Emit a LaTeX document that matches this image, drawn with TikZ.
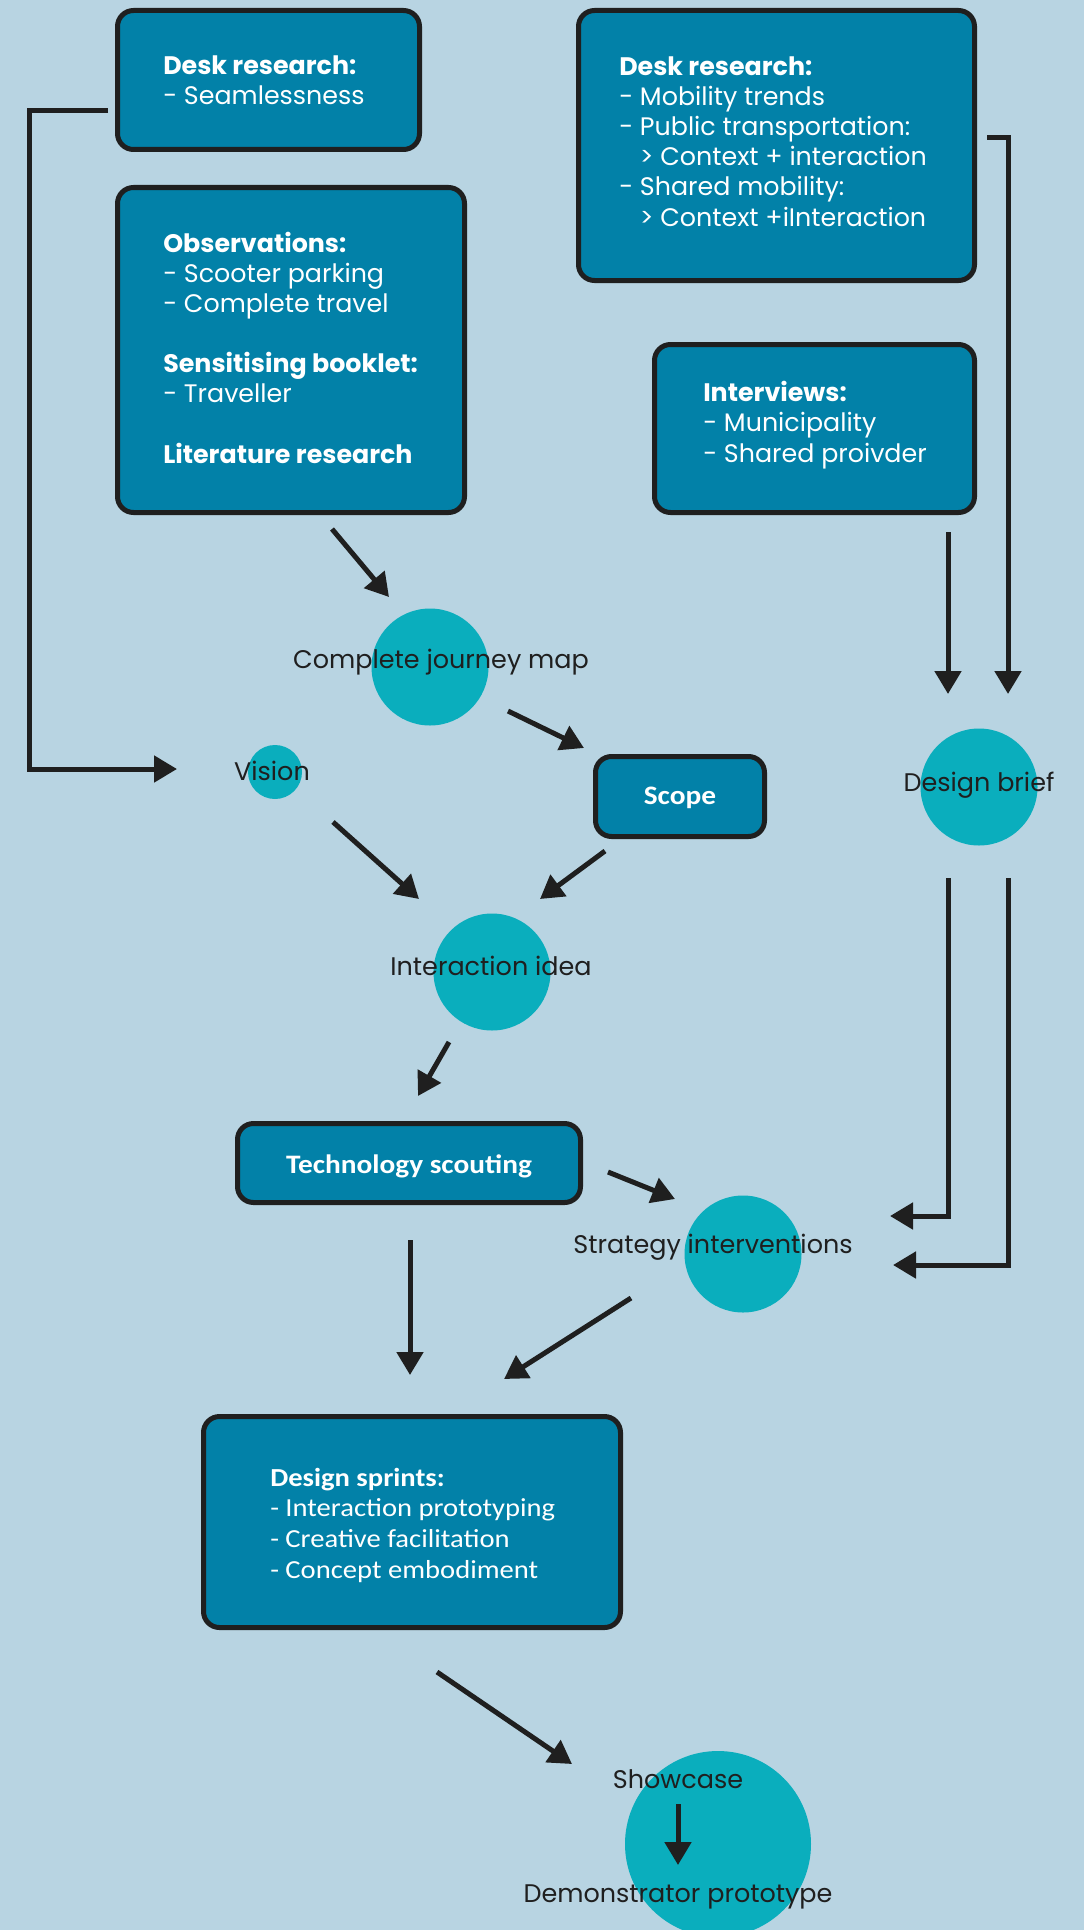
\documentclass[tikz,border=0pt]{standalone}
\usepackage{fontspec}
\setmainfont{Poppins}
\newfontfamily\carlito{Carlito}[FakeStretch=1.1]
\usetikzlibrary{arrows.meta}

\definecolor{bgblue}{HTML}{B8D4E2}
\definecolor{boxblue}{HTML}{0281A8}
\definecolor{dotteal}{HTML}{0AAEBD}
\definecolor{ink}{HTML}{1F1F1F}

\newdimen\pxu
\pxu=0.75pt

\tikzset{
  panel/.style={draw=ink, line width=5\pxu, fill=boxblue, rounded corners=16\pxu,
    inner sep=0pt},
  % multi-line text sits on the baseline of its last line
  panetext/.style={text=white, align=left, inner sep=0pt, anchor=base west,
    font=\fontsize{19pt}{22.6pt}\selectfont},
  sprinttext/.style={panetext, font=\carlito\fontsize{19.5pt}{22.9pt}\selectfont},
  tagtext/.style={text=white, inner sep=0pt, anchor=base,
    font=\carlito\bfseries\fontsize{20pt}{24pt}\selectfont},
  dot/.style={circle, fill=dotteal, inner sep=0pt},
  tag/.style={text=ink, inner sep=0pt, anchor=base,
    font=\fontsize{19.1pt}{22pt}\selectfont},
  flow/.style={draw=ink, line width=3.75pt,
    -{Triangle[length=17.25pt, width=19.5pt]}}
}

\begin{document}
\begin{tikzpicture}[x=0.75pt, y=-0.75pt]
  % background
  \fill[bgblue] (0,0) rectangle (1084,1930);
  \useasboundingbox (0,0) rectangle (1084,1930);

  % research boxes
  \node[panel, minimum width=302\pxu, minimum height=139\pxu] (desk1) at (268.5,80) {};
  \node[panetext] (desk1txt) at (163,105)
    {\textbf{Desk research:}\\- Seamlessness};
  \node[panel, minimum width=347\pxu, minimum height=325\pxu] (obs) at (291,350) {};
  \node[panetext] (obstxt) at (163,463)
    {\textbf{Observations:}\\- Scooter parking\\- Complete travel\\[22.6pt]
     \textbf{Sensitising booklet:}\\- Traveller\\[22.6pt]
     \textbf{Literature research}};
  \node[panel, minimum width=396\pxu, minimum height=270\pxu] (desk2) at (776.5,145.5) {};
  \node[panetext] (desk2txt) at (619,226)
    {\textbf{Desk research:}\\- Mobility trends\\- Public transportation:\\
     \phantom{- }> Context + interaction\\- Shared mobility:\\
     \phantom{- }> Context +iInteraction};
  \node[panel, minimum width=320\pxu, minimum height=168\pxu] (intv) at (814.5,428.5) {};
  \node[panetext] (intvtxt) at (703,462)
    {\textbf{Interviews:}\\- Municipality\\- Shared proivder};

  % process boxes
  \node[panel, minimum width=169\pxu, minimum height=80\pxu] (scope) at (680,796.5) {};
  \node[tagtext] (scopetxt) at (680,804) {Scope};
  \node[panel, minimum width=343\pxu, minimum height=79\pxu] (tech) at (409,1163) {};
  \node[tagtext] (techtxt) at (409,1173) {Technology scouting};
  \node[panel, minimum width=417\pxu, minimum height=211\pxu] (sprint) at (412,1522) {};
  \node[sprinttext] (sprinttxt) at (270,1578)
    {\textbf{Design sprints:}\\- Interaction prototyping\\- Creative facilitation\\- Concept embodiment};

  % milestone dots
  \node[dot, minimum size=117\pxu] (journeydot) at (430,667) {};
  \node[dot, minimum size=54\pxu] (visiondot) at (275,772) {};
  \node[dot, minimum size=117\pxu] (ideadot) at (492,972) {};
  \node[dot, minimum size=117\pxu] (briefdot) at (979,787) {};
  \node[dot, minimum size=117\pxu] (stratdot) at (743,1254) {};
  \begin{scope}
    \clip (0,0) rectangle (1084,1930);
    \node[dot, minimum size=186\pxu] (showdot) at (718,1844) {};
  \end{scope}

  % milestone labels
  \node[tag] (journey) at (441,668) {Complete journey map};
  \node[tag] (vision) at (272,780) {Vision};
  \node[tag] (idea) at (491,975) {Interaction idea};
  \node[tag] (brief) at (979,791) {Design brief};
  \node[tag] (strat) at (713,1253) {Strategy interventions};
  \node[tag] (show) at (678,1788) {Showcase};
  \node[tag] (demo) at (678,1902) {Demonstrator prototype};

  % connector end points
  \coordinate (obsOut) at (332,529);   \coordinate (journeyIn) at (389,597);
  \coordinate (journeyOut) at (508,711); \coordinate (scopeIn) at (584,748);
  \coordinate (desk1Out) at (108,111); \coordinate (visionIn) at (177,769);
  \coordinate (visionOut) at (333,822); \coordinate (ideaInL) at (419,899);
  \coordinate (scopeOut) at (605,851); \coordinate (ideaInR) at (540,899);
  \coordinate (ideaOut) at (449,1042); \coordinate (techIn) at (418,1096);
  \coordinate (desk2Out) at (987,138); \coordinate (briefInR) at (1008,694);
  \coordinate (intvOut) at (948,532);  \coordinate (briefInL) at (948,694);
  \coordinate (briefOutL) at (948,878); \coordinate (stratInA) at (890,1216);
  \coordinate (briefOutR) at (1008,878); \coordinate (stratInB) at (893,1265);
  \coordinate (techOutR) at (608,1172); \coordinate (stratInT) at (675,1199);
  \coordinate (techOutD) at (410,1240); \coordinate (sprintInL) at (410,1375);
  \coordinate (stratOut) at (631,1298); \coordinate (sprintInR) at (504,1379);
  \coordinate (sprintOut) at (437,1672); \coordinate (showIn) at (572,1764);
  \coordinate (showOut) at (678,1804); \coordinate (demoIn) at (678,1865);

  % connectors
  \draw[flow] (obsOut) -- (journeyIn);
  \draw[flow] (journeyOut) -- (scopeIn);
  \draw[flow] (desk1Out) -- (29,111) -- (29,769) -- (visionIn);
  \draw[flow] (visionOut) -- (ideaInL);
  \draw[flow] (scopeOut) -- (ideaInR);
  \draw[flow] (ideaOut) -- (techIn);
  \draw[flow] (desk2Out) -- (1008,138) -- (briefInR);
  \draw[flow] (intvOut) -- (briefInL);
  \draw[flow] (briefOutL) -- (948,1216) -- (stratInA);
  \draw[flow] (briefOutR) -- (1008,1265) -- (stratInB);
  \draw[flow] (techOutR) -- (stratInT);
  \draw[flow] (techOutD) -- (sprintInL);
  \draw[flow] (stratOut) -- (sprintInR);
  \draw[flow] (sprintOut) -- (showIn);
  \draw[flow] (showOut) -- (demoIn);
\end{tikzpicture}
\end{document}
